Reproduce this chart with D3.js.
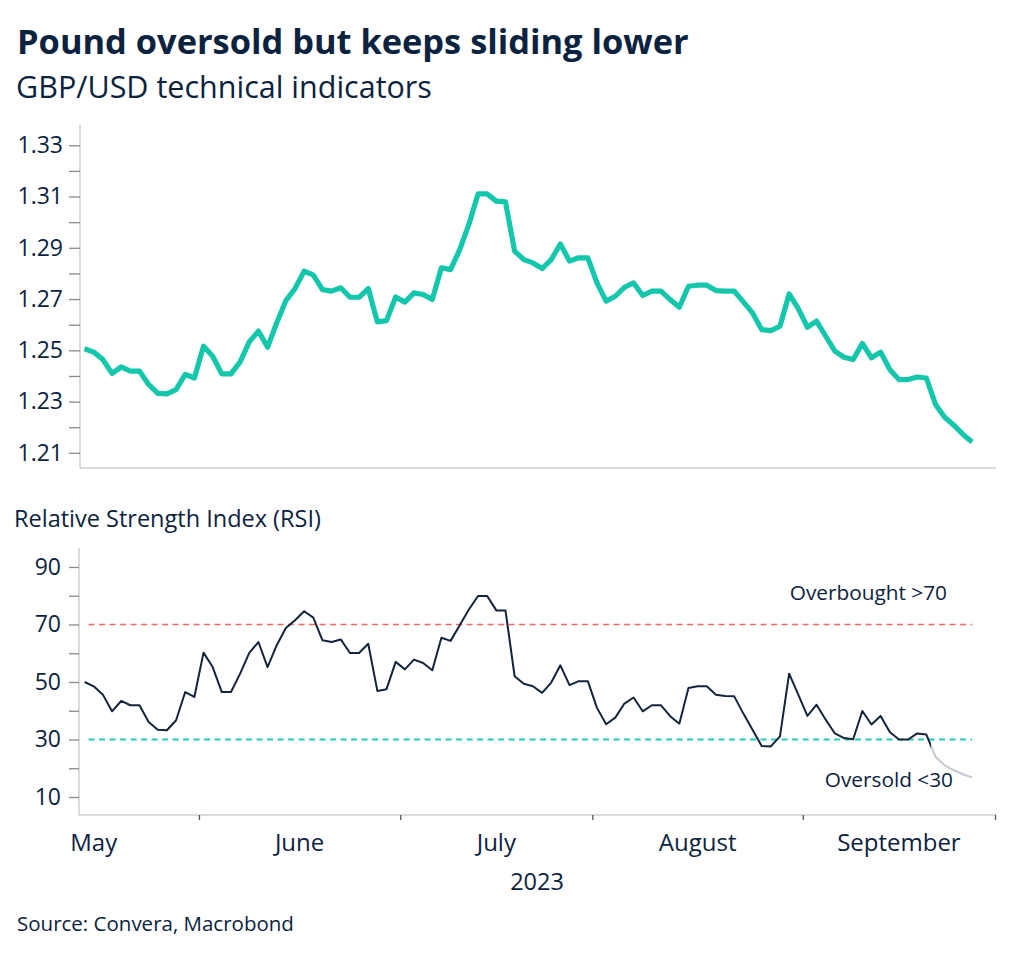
<!DOCTYPE html>
<html>
<head>
<meta charset="utf-8">
<script src="https://cdn.jsdelivr.net/npm/d3@7"></script>
<style>
  html, body { margin: 0; padding: 0; background: #fff; }
  svg { display: block; font-family: "Open Sans", "Noto Sans", sans-serif; }
</style>
</head>
<body>
<svg id="chart" width="1024" height="958"></svg>
<script>
// Business-day index 0 = 15 May 2023, last = 27 Sep 2023
const gbpusd = [
  1.2506, 1.2493, 1.2464, 1.2410, 1.2435, 1.2419, 1.2419, 1.2367, 1.2332, 1.2330,
  1.2347, 1.2406, 1.2392, 1.2516, 1.2477, 1.2408, 1.2408, 1.2455, 1.2533, 1.2575,
  1.2512, 1.2607, 1.2694, 1.2741, 1.2809, 1.2793, 1.2737, 1.2731, 1.2744, 1.2707,
  1.2707, 1.2741, 1.2611, 1.2616, 1.2708, 1.2688, 1.2724, 1.2718, 1.2698, 1.2822,
  1.2815, 1.2893, 1.2991, 1.3110, 1.3110, 1.3082, 1.3079, 1.2887, 1.2854, 1.2841,
  1.2819, 1.2854, 1.2915, 1.2848, 1.2861, 1.2861, 1.2763, 1.2692, 1.2711, 1.2746,
  1.2763, 1.2714, 1.2731, 1.2731, 1.2698, 1.2668, 1.2750, 1.2754, 1.2754, 1.2733,
  1.2731, 1.2731, 1.2689, 1.2646, 1.2581, 1.2577, 1.2594, 1.2720, 1.2663, 1.2590,
  1.2614, 1.2555, 1.2497, 1.2473, 1.2464, 1.2527, 1.2471, 1.2493, 1.2425, 1.2386,
  1.2386, 1.2396, 1.2392, 1.2289, 1.2239, 1.2208, 1.2172, 1.2142
];
const rsi = [
  50.0, 48.5, 45.6, 39.8, 43.4, 41.9, 41.9, 36.1, 33.4, 33.2,
  36.7, 46.5, 44.8, 60.2, 55.2, 46.5, 46.5, 52.9, 60.1, 63.9,
  55.2, 62.8, 68.8, 71.5, 74.6, 72.4, 64.5, 63.9, 64.8, 60.1,
  60.1, 63.3, 46.9, 47.5, 57.0, 54.4, 57.8, 56.6, 54.1, 65.4,
  64.3, 69.7, 75.2, 79.9, 79.9, 74.9, 74.9, 52.0, 49.4, 48.5,
  46.2, 49.8, 55.8, 48.9, 50.3, 50.3, 41.0, 35.3, 37.6, 42.5,
  44.6, 39.8, 41.9, 41.9, 38.1, 35.5, 47.9, 48.5, 48.5, 45.6,
  45.1, 45.0, 39.0, 33.4, 27.7, 27.6, 31.1, 52.9, 45.6, 38.2,
  42.1, 36.9, 32.1, 30.5, 30.1, 39.9, 35.2, 38.2, 32.6, 30.0,
  30.0, 32.1, 31.7, 24.0, 21.0, 19.3, 17.9, 16.8
];
const rsiGreyFrom = 92.5;           // index where the RSI line turns grey
const overbought = 70, oversold = 30;
const monthLabels = ["May", "June", "July", "August", "September"];
const monthBounds = [-10, 13, 35, 56, 79, 100]; // business-day index of first day of each month
const priceTicks = [1.21, 1.23, 1.25, 1.27, 1.29, 1.31, 1.33];
const priceMinor = [1.22, 1.24, 1.26, 1.28, 1.30, 1.32];
const rsiTicks = [10, 30, 50, 70, 90];
const rsiMinor = [20, 40, 60, 80];

const navy = "#0c2340";
const svg = d3.select("#chart");

// Titles
svg.append("text").attr("x", 17).attr("y", 54)
  .attr("font-size", 34.4).attr("font-weight", 700).attr("fill", navy)
  .text("Pound oversold but keeps sliding lower");
svg.append("text").attr("x", 16).attr("y", 98)
  .attr("font-size", 30.5).attr("fill", navy)
  .text("GBP/USD technical indicators");

// Shared x scale (business day index)
const x = d3.scaleLinear().domain([-0.5, 99.5]).range([80, 995]);

// ---------- Top panel ----------
const yP = d3.scaleLinear().domain([1.2041, 1.3379]).range([468, 125]);
const topG = svg.append("g");
topG.append("line").attr("x1", 80).attr("x2", 80).attr("y1", 125).attr("y2", 468)
  .attr("stroke", "#cfcfcf").attr("stroke-width", 1.5);
topG.append("line").attr("x1", 80).attr("x2", 996).attr("y1", 468).attr("y2", 468)
  .attr("stroke", "#cfcfcf").attr("stroke-width", 1.5);
const pAxis = d3.axisLeft(yP).tickValues(priceTicks).tickSize(11).tickPadding(6)
  .tickFormat(d3.format(".2f"));
const pAxG = topG.append("g").attr("transform", "translate(80,0)").call(pAxis);
pAxG.select(".domain").remove();
pAxG.selectAll(".tick line").attr("stroke", "#8a8a8a").attr("stroke-width", 1.3);
pAxG.selectAll(".tick text").attr("font-size", 23).attr("fill", navy)
  .attr("font-family", "'Open Sans', 'Noto Sans', sans-serif");
const pMin = topG.append("g").attr("transform", "translate(80,0)")
  .call(d3.axisLeft(yP).tickValues(priceMinor).tickSize(11).tickFormat(""));
pMin.select(".domain").remove();
pMin.selectAll(".tick line").attr("stroke", "#8a8a8a").attr("stroke-width", 1.3);

topG.append("path").datum(gbpusd)
  .attr("fill", "none").attr("stroke", "#14c6ab").attr("stroke-width", 5.2)
  .attr("stroke-linejoin", "round").attr("stroke-linecap", "butt")
  .attr("d", d3.line().x((d, i) => x(i)).y(d => yP(d)));

// ---------- Bottom panel ----------
svg.append("text").attr("x", 14).attr("y", 527)
  .attr("font-size", 23.5).attr("fill", navy)
  .text("Relative Strength Index (RSI)");

const yR = d3.scaleLinear().domain([3.74, 96.6]).range([815, 548]);
const bot = svg.append("g");
bot.append("line").attr("x1", 79).attr("x2", 79).attr("y1", 548).attr("y2", 815)
  .attr("stroke", "#cfcfcf").attr("stroke-width", 1.5);

const rAxG = bot.append("g").attr("transform", "translate(79,0)")
  .call(d3.axisLeft(yR).tickValues(rsiTicks).tickSize(10).tickPadding(8));
rAxG.select(".domain").remove();
rAxG.selectAll(".tick line").attr("stroke", "#8a8a8a").attr("stroke-width", 1.3);
rAxG.selectAll(".tick text").attr("font-size", 23).attr("fill", navy)
  .attr("font-family", "'Open Sans', 'Noto Sans', sans-serif");
const rMin = bot.append("g").attr("transform", "translate(79,0)")
  .call(d3.axisLeft(yR).tickValues(rsiMinor).tickSize(10).tickFormat(""));
rMin.select(".domain").remove();
rMin.selectAll(".tick line").attr("stroke", "#8a8a8a").attr("stroke-width", 1.3);

// x axis
const tickIdx = monthBounds.slice(1).map(b => b - 0.5);
const xAxG = bot.append("g").attr("transform", "translate(0,815)")
  .call(d3.axisBottom(x).tickValues(tickIdx).tickSize(5).tickFormat(""));
xAxG.select(".domain").attr("stroke", "#cfcfcf").attr("stroke-width", 1.5)
  .attr("d", "M79,0H996");
xAxG.selectAll(".tick line").attr("stroke", "#555").attr("stroke-width", 1.3);

monthLabels.forEach((m, i) => {
  const c = (monthBounds[i] + monthBounds[i + 1] - 1) / 2;
  bot.append("text").attr("x", x(c)).attr("y", 851)
    .attr("text-anchor", "middle").attr("font-size", 24).attr("fill", navy)
    .text(m);
});
bot.append("text").attr("x", 537).attr("y", 890).attr("text-anchor", "middle")
  .attr("font-size", 23.5).attr("fill", navy).text("2023");

// Reference lines
const refX0 = x(0) + 4, refX1 = x(gbpusd.length - 1);
bot.append("line").attr("x1", refX0).attr("x2", refX1)
  .attr("y1", yR(overbought)).attr("y2", yR(overbought))
  .attr("stroke", "#f2685a").attr("stroke-width", 1.6).attr("stroke-dasharray", "6,4.5");
bot.append("line").attr("x1", refX0).attr("x2", refX1)
  .attr("y1", yR(oversold)).attr("y2", yR(oversold))
  .attr("stroke", "#22cdbb").attr("stroke-width", 1.8).attr("stroke-dasharray", "6,4.5");

bot.append("text").attr("x", 947).attr("y", 600).attr("text-anchor", "end")
  .attr("font-size", 20.8).attr("fill", navy).text("Overbought >70");
bot.append("text").attr("x", 953).attr("y", 787).attr("text-anchor", "end")
  .attr("font-size", 20.8).attr("fill", navy).text("Oversold <30");

// RSI line: dark part then grey part
const defs = svg.append("defs");
defs.append("clipPath").attr("id", "clipDark").append("rect")
  .attr("x", 0).attr("y", 0).attr("width", x(rsiGreyFrom)).attr("height", 958);
defs.append("clipPath").attr("id", "clipGrey").append("rect")
  .attr("x", x(rsiGreyFrom)).attr("y", 0).attr("width", 1024 - x(rsiGreyFrom)).attr("height", 958);
const rLine = d3.line().x((d, i) => x(i)).y(d => yR(d));
bot.append("path").datum(rsi).attr("clip-path", "url(#clipGrey)")
  .attr("fill", "none").attr("stroke", "#c3cad2").attr("stroke-width", 2)
  .attr("stroke-linejoin", "round").attr("d", rLine);
bot.append("path").datum(rsi).attr("clip-path", "url(#clipDark)")
  .attr("fill", "none").attr("stroke", "#13243d").attr("stroke-width", 2)
  .attr("stroke-linejoin", "round").attr("d", rLine);

// Source
svg.append("text").attr("x", 17).attr("y", 931).attr("font-size", 20.5).attr("fill", navy)
  .text("Source: Convera, Macrobond");
</script>
</body>
</html>
